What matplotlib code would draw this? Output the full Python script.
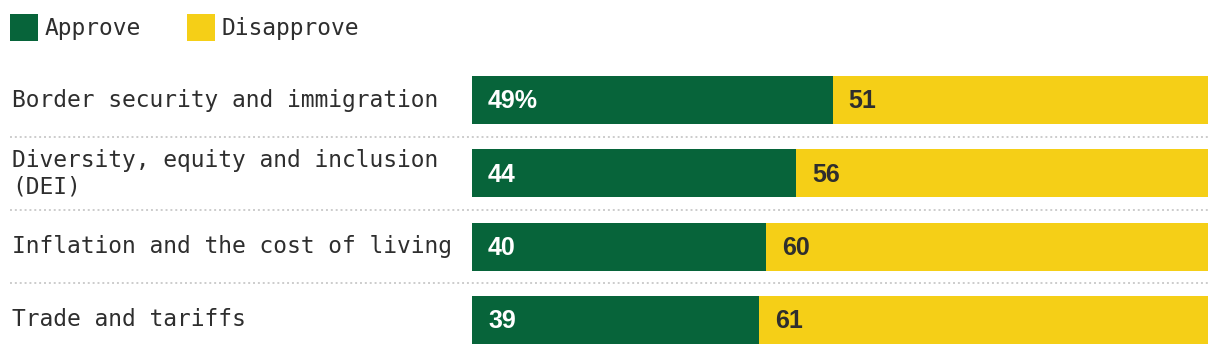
import matplotlib
matplotlib.use("Agg")
import matplotlib.pyplot as plt
import matplotlib.transforms as mtransforms
from matplotlib.patches import Patch

# dados
categorias = ["Border security and immigration",
              "Diversity, equity and inclusion\n(DEI)",
              "Inflation and the cost of living",
              "Trade and tariffs"]
aprova = [49, 44, 40, 39]
desaprova = [51, 56, 60, 61]
rotulos_aprova = ["49%", "44", "40", "39"]
rotulos_desaprova = ["51", "56", "60", "61"]

verde = "#07643a"
amarelo = "#f5cf17"
texto = "#2e2e2e"
mono = ["DejaVu Sans Mono"]
sans = ["Liberation Sans"]

fig = plt.figure(figsize=(12.2, 3.54), dpi=100)
ax = fig.add_axes([472 / 1220, 0, 736 / 1220, 1])

passo = 73.33
y = list(range(len(categorias)))
ax.barh(y, aprova, height=48 / passo, color=verde, linewidth=0)
ax.barh(y, desaprova, left=aprova, height=48 / passo, color=amarelo, linewidth=0)

ax.set_xlim(0, 100)
ax.set_ylim(3 + 34 / passo, -100 / passo)
ax.axis("off")

# rótulos dos valores
for i in y:
    ax.text(16 / 7.36, i + 0.02, rotulos_aprova[i], color="white", fontsize=18,
            fontweight="bold", family=sans, va="center", ha="left")
    ax.text(aprova[i] + 16 / 7.36, i + 0.02, rotulos_desaprova[i], color=texto,
            fontsize=18, fontweight="bold", family=sans, va="center", ha="left")

# categorias e separadores pontilhados
trans = mtransforms.blended_transform_factory(fig.transFigure, ax.transData)
for i in y:
    ax.text(12 / 1220, i, categorias[i], transform=trans, color=texto,
            fontsize=16.5, family=mono, va="center", ha="left", linespacing=1.2)
for i in y[:-1]:
    ax.plot([10 / 1220, 1208 / 1220], [i + 0.5, i + 0.5], transform=trans,
            color="#cccccc", linewidth=1.4, linestyle=(0, (1, 1.5)), clip_on=False)

# legenda
handles = [Patch(facecolor=verde, label="Approve"),
           Patch(facecolor=amarelo, label="Disapprove")]
fig.legend(handles=handles, loc="upper left", bbox_to_anchor=(10 / 1220, 1 - 14 / 354),
           ncol=2, frameon=False, borderpad=0, borderaxespad=0,
           handlelength=1.22, handleheight=1.45, handletextpad=0.3,
           columnspacing=2.0, prop={"family": mono, "size": 16.5},
           labelcolor=texto)

fig.savefig("out.png", dpi=100)
